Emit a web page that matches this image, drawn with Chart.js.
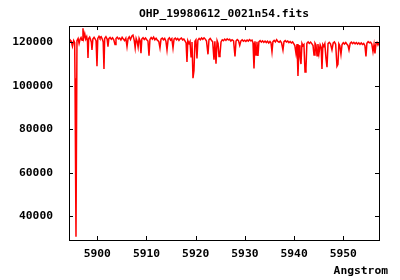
<!DOCTYPE html>
<html>
<head>
<meta charset="utf-8">
<script src="https://cdn.jsdelivr.net/npm/chart.js@4/dist/chart.umd.min.js"></script>
<style>
  html, body { margin: 0; padding: 0; background: #fff; }
  canvas { display: block; }
</style>
</head>
<body>
<canvas id="spec" width="400" height="280"></canvas>
<script>
// spectrum (wavelength in Angstrom, counts)
const wavelength = [
  5894.25, 5894.45, 5894.70, 5894.95, 5895.20, 5895.40, 5895.47, 5895.67, 5895.87, 5896.10,
  5896.30, 5896.50, 5896.70, 5896.90, 5897.09, 5897.25, 5897.45, 5897.65, 5897.85, 5898.00,
  5898.11, 5898.25, 5898.45, 5898.65, 5898.80, 5898.92, 5899.10, 5899.35, 5899.55, 5899.75,
  5899.94, 5900.10, 5900.35, 5900.55, 5900.80, 5901.05, 5901.20, 5901.36, 5901.50, 5901.75,
  5902.00, 5902.17, 5902.35, 5902.60, 5902.85, 5903.10, 5903.35, 5903.60, 5903.80, 5904.05,
  5904.30, 5904.55, 5904.80, 5905.05, 5905.30, 5905.55, 5905.80, 5906.04, 5906.25, 5906.50,
  5906.75, 5907.00, 5907.25, 5907.50, 5907.70, 5907.90, 5908.10, 5908.30, 5908.50, 5908.70,
  5908.88, 5909.05, 5909.30, 5909.55, 5909.80, 5910.05, 5910.30, 5910.51, 5910.70, 5910.95,
  5911.20, 5911.45, 5911.70, 5911.95, 5912.20, 5912.50, 5912.74, 5912.95, 5913.20, 5913.45,
  5913.70, 5913.95, 5914.17, 5914.40, 5914.65, 5914.90, 5915.15, 5915.39, 5915.60, 5915.85,
  5916.10, 5916.35, 5916.60, 5916.85, 5917.10, 5917.35, 5917.60, 5917.85, 5918.05, 5918.23,
  5918.40, 5918.65, 5918.85, 5919.05, 5919.25, 5919.45, 5919.65, 5919.85, 5920.05, 5920.26,
  5920.45, 5920.70, 5920.95, 5921.20, 5921.45, 5921.70, 5921.95, 5922.20, 5922.50, 5922.70,
  5922.95, 5923.20, 5923.45, 5923.72, 5923.90, 5924.13, 5924.35, 5924.55, 5924.74, 5924.94,
  5925.15, 5925.40, 5925.65, 5925.90, 5926.15, 5926.40, 5926.65, 5926.90, 5927.15, 5927.40,
  5927.70, 5927.99, 5928.20, 5928.45, 5928.70, 5928.95, 5929.20, 5929.45, 5929.70, 5929.95,
  5930.20, 5930.45, 5930.70, 5930.95, 5931.20, 5931.45, 5931.65, 5931.85, 5932.05, 5932.26,
  5932.45, 5932.66, 5932.85, 5933.10, 5933.35, 5933.60, 5933.85, 5934.10, 5934.35, 5934.60,
  5934.85, 5935.10, 5935.30, 5935.51, 5935.70, 5935.95, 5936.20, 5936.45, 5936.70, 5936.95,
  5937.20, 5937.45, 5937.74, 5937.95, 5938.20, 5938.45, 5938.70, 5938.95, 5939.20, 5939.45,
  5939.70, 5939.95, 5940.15, 5940.39, 5940.60, 5940.79, 5941.00, 5941.20, 5941.40, 5941.60,
  5941.80, 5942.00, 5942.22, 5942.42, 5942.60, 5942.85, 5943.10, 5943.35, 5943.60, 5943.85,
  5944.05, 5944.25, 5944.45, 5944.66, 5944.85, 5945.06, 5945.30, 5945.50, 5945.67, 5945.85,
  5946.05, 5946.25, 5946.49, 5946.69, 5946.90, 5947.15, 5947.40, 5947.70, 5947.95, 5948.20,
  5948.45, 5948.72, 5948.92, 5949.10, 5949.30, 5949.53, 5949.75, 5950.00, 5950.25, 5950.50,
  5950.75, 5950.95, 5951.16, 5951.40, 5951.65, 5951.90, 5952.15, 5952.40, 5952.65, 5952.90,
  5953.15, 5953.40, 5953.65, 5953.90, 5954.15, 5954.40, 5954.61, 5954.80, 5955.05, 5955.30,
  5955.55, 5955.80, 5956.04, 5956.25, 5956.44, 5956.65, 5956.85, 5957.05, 5957.25
];

const flux = [
  120300, 121200, 120600, 118200, 120800, 119800, 103500, 30500, 120800, 121800,
  119500, 121400, 122200, 121000, 126500, 122000, 124000, 121500, 122600, 120500,
  112800, 121800, 122400, 121200, 120000, 116500, 121500, 122300, 121600, 120800,
  109000, 121800, 122800, 121900, 122500, 121300, 120200, 107700, 121800, 122600,
  121500, 118000, 121700, 122300, 121400, 122100, 121200, 119000, 121800, 122400,
  121600, 122000, 121100, 122300, 121500, 120800, 121900, 118000, 121600, 122500,
  121300, 122800, 123300, 121000, 117400, 121800, 120500, 117800, 121900, 120800,
  115000, 121500, 122100, 121300, 122000, 121200, 120600, 113800, 121300, 122200,
  121500, 122400, 121200, 121900, 121000, 120400, 117400, 121500, 122000, 121200,
  121800, 120500, 116500, 121400, 122100, 121000, 121700, 117400, 121500, 122000,
  121200, 121800, 120900, 121600, 122000, 121100, 121500, 120600, 119800, 111000,
  120800, 119500, 120400, 113400, 120200, 103500, 107000, 120500, 121200, 112600,
  121000, 121800, 121200, 122000, 121400, 122100, 121500, 120600, 114500, 121200,
  121800, 121000, 120300, 112000, 120500, 110200, 120800, 119500, 113500, 114500,
  120200, 121200, 120800, 121500, 120900, 121600, 121100, 121400, 120600, 121200,
  120700, 113500, 120600, 121300, 120800, 118600, 120700, 121200, 120500, 121000,
  120400, 121100, 120600, 121300, 120700, 121000, 119800, 108000, 120500, 114200,
  120300, 113700, 120200, 120800, 120100, 120700, 120000, 120600, 119900, 120500,
  119700, 120400, 119800, 115700, 120300, 120900, 120200, 121200, 120400, 120000,
  120600, 119800, 116500, 120300, 120800, 120200, 120600, 119900, 120400, 119700,
  120200, 119300, 118500, 114900, 119200, 104500, 118700, 113800, 110000, 119500,
  118400, 119000, 106300, 108000, 119600, 120200, 119500, 120100, 119400, 118500,
  114200, 119600, 118800, 113800, 119200, 114900, 118900, 117800, 107700, 119000,
  118200, 119400, 112500, 108600, 119400, 120000, 119300, 116500, 119700, 120200,
  119100, 109000, 109900, 119300, 118400, 114500, 119000, 119800, 119200, 119900,
  119100, 118600, 116500, 119500, 120100, 119400, 120000, 119300, 119900, 119200,
  119800, 119100, 119700, 119000, 119500, 118500, 113500, 119600, 120300, 119800,
  120100, 119200, 115700, 118900, 114900, 119400, 120000, 118800, 119800
];

const xTicks = [5900, 5910, 5920, 5930, 5940, 5950];
const yTicks = [40000, 60000, 80000, 100000, 120000];

const FONT = "'DejaVu Sans Mono', monospace";

// gnuplot-like frame: border on all sides with small inward ticks (mirrored)
const framePlugin = {
  id: "frame",
  afterDraw(chart) {
    const { ctx, chartArea: a, scales } = chart;
    const tl = 4;
    ctx.save();
    ctx.strokeStyle = "#000";
    ctx.lineWidth = 1;
    ctx.beginPath();
    xTicks.forEach((v) => {
      const x = Math.round(scales.x.getPixelForValue(v)) + 0.5;
      ctx.moveTo(x, a.bottom); ctx.lineTo(x, a.bottom - tl);
      ctx.moveTo(x, a.top); ctx.lineTo(x, a.top + tl);
    });
    yTicks.forEach((v) => {
      const y = Math.round(scales.y.getPixelForValue(v)) + 0.5;
      ctx.moveTo(a.left, y); ctx.lineTo(a.left + tl, y);
      ctx.moveTo(a.right, y); ctx.lineTo(a.right - tl, y);
    });
    ctx.stroke();
    ctx.strokeRect(Math.round(a.left) + 0.5, Math.round(a.top) + 0.5,
      Math.round(a.right - a.left), Math.round(a.bottom - a.top));

    ctx.fillStyle = "#000";
    ctx.font = "bold 11.3px " + FONT;
    ctx.textAlign = "right";
    ctx.textBaseline = "middle";
    ctx.fillText("Angstrom", 388, 271);
    ctx.restore();
  },
};

new Chart(document.getElementById("spec"), {
  type: "line",
  data: {
    datasets: [
      {
        data: wavelength.map((w, i) => ({ x: w, y: flux[i] })),
        borderColor: "#ff0000",
        borderWidth: 1.5,
        pointRadius: 0,
        tension: 0,
        fill: false,
      },
    ],
  },
  options: {
    responsive: false,
    animation: false,
    events: [],
    layout: { padding: { top: 0, right: 21, bottom: 0, left: 0 } },
    plugins: {
      legend: { display: false },
      tooltip: { enabled: false },
      title: {
        display: true,
        fullSize: false,
        text: "OHP_19980612_0021n54.fits",
        color: "#000",
        font: { family: FONT, size: 11.3, weight: "bold", lineHeight: 1.2 },
        padding: { top: 7.5, bottom: 5 },
      },
    },
    scales: {
      x: {
        type: "linear",
        min: 5894.25,
        max: 5957.26,
        grid: { display: false },
        border: { display: false },
        afterBuildTicks: (s) => { s.ticks = xTicks.map((v) => ({ value: v })); },
        afterFit: (s) => { s.height = 40; },
        ticks: {
          color: "#000",
          padding: -1,
          maxRotation: 0,
          font: { family: FONT, size: 11.3, weight: "bold" },
          callback: (v) => String(v),
        },
      },
      y: {
        min: 29000,
        max: 127500,
        grid: { display: false },
        border: { display: false },
        afterBuildTicks: (s) => { s.ticks = yTicks.map((v) => ({ value: v })); },
        afterFit: (s) => { s.width = 69; },
        ticks: {
          color: "#000",
          padding: 8,
          font: { family: FONT, size: 11.3, weight: "bold" },
          callback: (v) => String(v),
        },
      },
    },
  },
  plugins: [framePlugin],
});
</script>
</body>
</html>
